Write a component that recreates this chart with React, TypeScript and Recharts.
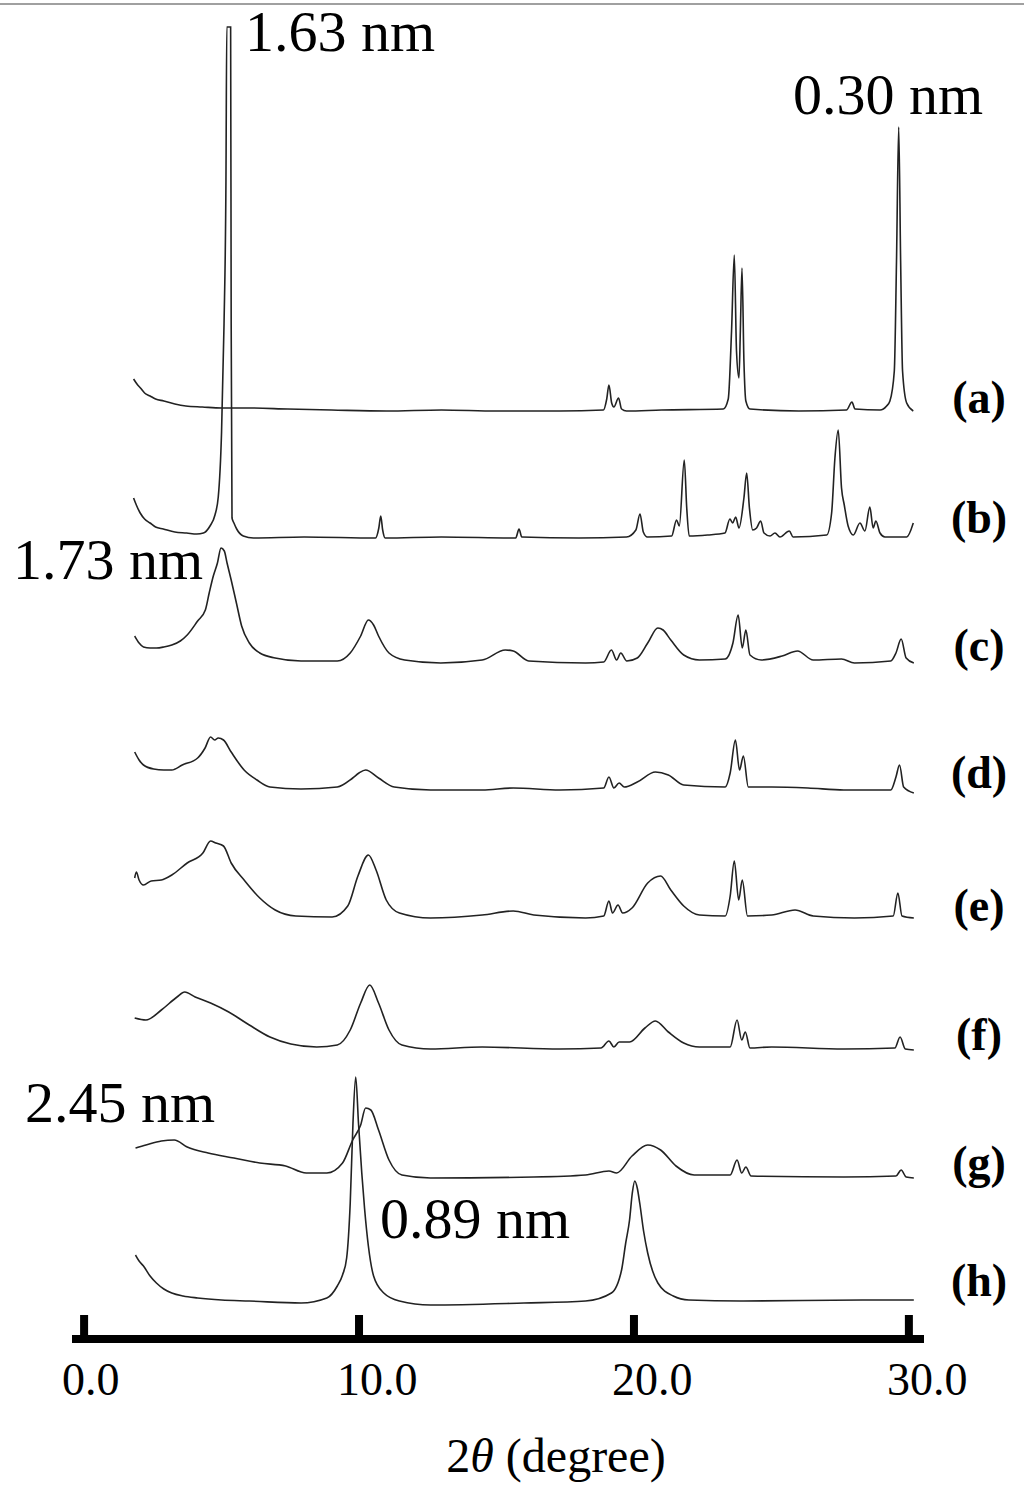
import { LineChart, Line, XAxis, YAxis } from "recharts";

const SERIF = '"Liberation Serif", "Times New Roman", serif';

// 2θ (degree) vs intensity above each trace's own baseline
const traceA: [number, number][] = [
  [1.8, 32], [1.95, 26], [2.05, 23], [2.2, 18], [2.4, 15], [2.6, 12], [2.9, 10], [3.3, 7], [3.7, 5],
  [4.3, 4], [5.0, 3], [6.0, 3], [7.4, 2], [9, 1], [11, 0], [13, 1], [15, 0], [17.3, 0],
  [18.89, 1], [19.01, 12], [19.09, 26], [19.19, 8], [19.27, 4], [19.44, 13], [19.55, 2], [19.73, 0],
  [21, 1], [23.25, 2], [23.43, 12], [23.55, 80], [23.65, 156], [23.73, 60], [23.82, 33], [23.87, 80],
  [23.93, 143], [24.0, 50], [24.07, 10], [24.22, 2], [26, 0], [27.73, 1], [27.93, 9], [28.04, 2],
  [28.95, 1], [29.19, 5], [29.31, 10], [29.47, 40], [29.55, 150], [29.63, 284], [29.7, 150],
  [29.77, 40], [29.92, 8], [30.16, 0],
];

const traceB: [number, number][] = [
  [1.8, 40], [1.9, 33], [2.04, 25], [2.2, 19], [2.4, 15], [2.6, 11], [2.88, 9], [3.3, 6], [3.73, 5],
  [4.1, 4], [4.34, 5], [4.58, 12], [4.76, 23], [4.88, 41], [5.0, 106], [5.09, 214], [5.16, 358],
  [5.19, 511], [5.33, 511], [5.35, 214], [5.38, 20], [5.45, 15], [5.55, 9], [5.79, 2], [6.16, 0],
  [8, 1], [10.6, 0], [10.72, 10], [10.79, 22], [10.86, 8], [10.95, 0], [13, 1], [15.7, 0],
  [15.82, 9], [15.92, 1], [18, 0], [19.73, 1], [20.07, 8], [20.22, 24], [20.34, 6], [20.49, 1],
  [21.37, 2], [21.55, 18], [21.65, 12], [21.83, 78], [21.92, 30], [22.01, 2], [22.68, 3],
  [23.31, 5], [23.49, 19], [23.59, 15], [23.7, 21], [23.82, 10], [24.0, 40], [24.1, 65], [24.2, 30],
  [24.32, 8], [24.46, 10], [24.61, 17], [24.73, 5], [24.95, 2], [25.13, 5], [25.31, 1], [25.65, 7],
  [25.79, 1], [27.01, 3], [27.19, 25], [27.31, 80], [27.43, 108], [27.55, 50], [27.65, 33],
  [27.79, 12], [27.98, 3], [28.22, 15], [28.4, 7], [28.58, 31], [28.7, 10], [28.8, 17], [28.95, 5],
  [29.13, 1], [29.92, 1], [30.16, 15],
];

const traceC: [number, number][] = [
  [1.84, 27], [2.0, 20], [2.16, 16], [2.4, 15], [2.63, 15], [2.9, 16], [3.19, 18], [3.5, 22],
  [3.75, 28], [4.13, 42], [4.41, 53], [4.55, 70], [4.7, 87], [4.85, 100], [4.98, 115], [5.1, 112],
  [5.2, 100], [5.35, 83], [5.54, 60], [5.73, 37], [6.01, 20], [6.39, 10], [6.95, 5], [7.89, 2],
  [9.21, 2], [9.68, 10], [10.06, 27], [10.34, 43], [10.53, 38], [10.71, 27], [11.09, 10], [11.66, 3],
  [12.97, 0], [14.48, 3], [15.32, 13], [15.61, 12], [16.17, 2], [18.24, 0], [18.9, 1], [19.18, 13],
  [19.37, 3], [19.52, 10], [19.74, 2], [20.12, 5], [20.5, 20], [20.87, 35], [21.06, 33], [21.34, 23],
  [21.81, 8], [22.38, 3], [23.32, 4], [23.6, 20], [23.79, 48], [23.94, 15], [24.07, 33], [24.22, 8],
  [24.63, 3], [25.39, 7], [25.95, 12], [26.52, 3], [27.55, 4], [28.02, 0], [29.34, 2], [29.53, 10],
  [29.72, 24], [29.9, 5], [30.18, 0],
];

const traceD: [number, number][] = [
  [1.84, 38], [2.0, 30], [2.16, 25], [2.53, 21], [2.9, 20], [3.19, 20], [3.57, 25], [4.13, 32],
  [4.4, 42], [4.6, 53], [4.75, 50], [4.88, 52], [5.07, 50], [5.35, 38], [5.82, 20], [6.29, 10],
  [6.76, 3], [7.89, 1], [9.21, 3], [9.77, 12], [10.0, 17], [10.24, 20], [10.71, 12], [11.28, 3],
  [12.6, 0], [14.48, 0], [15.61, 2], [17.3, 0], [18.9, 2], [19.09, 13], [19.27, 2], [19.46, 7],
  [19.65, 3], [20.12, 8], [20.78, 18], [21.25, 15], [21.81, 5], [23.32, 3], [23.5, 17], [23.69, 50],
  [23.84, 20], [23.98, 34], [24.16, 3], [25.01, 3], [26.33, 2], [27.64, 0], [29.34, 0], [29.53, 13],
  [29.66, 25], [29.81, 3], [30.18, -3],
];

const traceE: [number, number][] = [
  [1.84, 40], [1.9, 46], [2.0, 38], [2.16, 33], [2.44, 37], [2.81, 38], [3.19, 43], [3.75, 55],
  [4.32, 65], [4.6, 77], [4.79, 75], [5.07, 72], [5.35, 55], [5.82, 38], [6.39, 20], [6.95, 8],
  [7.7, 2], [9.02, 1], [9.59, 12], [9.96, 42], [10.34, 63], [10.62, 48], [10.99, 18], [11.47, 5],
  [12.6, 0], [14.48, 3], [15.61, 7], [16.36, 3], [18.24, 0], [18.9, 2], [19.09, 17], [19.22, 5],
  [19.42, 13], [19.59, 5], [19.93, 10], [20.5, 35], [20.97, 42], [21.34, 28], [21.81, 12],
  [22.38, 3], [23.32, 2], [23.5, 22], [23.65, 57], [23.81, 18], [23.94, 38], [24.13, 2], [25.01, 3],
  [25.86, 8], [26.52, 2], [28.02, 0], [29.43, 2], [29.6, 25], [29.75, 2], [30.18, 0],
];

const traceF: [number, number][] = [
  [1.84, 31], [2.25, 29], [2.81, 39], [3.38, 52], [3.66, 57], [4.04, 52], [4.6, 46], [5.26, 37],
  [6.01, 24], [6.76, 12], [7.52, 5], [8.46, 2], [9.21, 4], [9.68, 19], [10.06, 46], [10.39, 64],
  [10.71, 46], [11.09, 19], [11.56, 4], [12.6, 0], [14.48, 2], [17.3, 0], [18.8, 1], [19.09, 8],
  [19.27, 2], [19.46, 7], [19.84, 7], [20.4, 21], [20.78, 28], [21.25, 17], [21.81, 6], [22.38, 2],
  [23.5, 2], [23.75, 29], [23.92, 9], [24.05, 17], [24.22, 1], [25.01, 2], [27.64, 0], [29.49, 1],
  [29.68, 12], [29.87, 0], [30.18, -1],
];

const traceG: [number, number][] = [
  [1.87, 29], [2.25, 32], [2.81, 36], [3.28, 37], [3.75, 30], [4.51, 24], [5.45, 19], [6.39, 14],
  [7.33, 11], [8.08, 4], [8.83, 4], [9.4, 14], [9.77, 37], [10.06, 52], [10.24, 69], [10.43, 67],
  [10.71, 47], [11.09, 17], [11.56, 2], [12.6, -1], [16.36, 0], [18.24, 2], [19.09, 6], [19.37, 4],
  [19.93, 21], [20.5, 32], [20.97, 27], [21.53, 11], [22.19, 2], [23.5, 2], [23.75, 17], [23.92, 4],
  [24.07, 10], [24.26, 1], [27.64, 0], [29.53, 1], [29.72, 7], [29.9, 0], [30.18, -1],
];

const traceH: [number, number][] = [
  [1.87, 48], [2.0, 42], [2.16, 37], [2.4, 27], [2.63, 20], [2.9, 14], [3.19, 10], [3.6, 7],
  [4.13, 5], [5, 3], [6.01, 2], [7.89, 0], [8.83, 5], [9.21, 17], [9.4, 28], [9.55, 45], [9.68, 100],
  [9.78, 180], [9.88, 226], [9.98, 180], [10.1, 130], [10.2, 95], [10.34, 57], [10.53, 27],
  [10.9, 10], [11.47, 2], [12.6, -2], [16, 0], [18.24, 2], [19.18, 10], [19.55, 33], [19.7, 60],
  [19.84, 83], [19.94, 110], [20.03, 122], [20.12, 115], [20.21, 100], [20.35, 72], [20.5, 50],
  [20.87, 20], [21.43, 7], [22.0, 3], [23.88, 2], [28.4, 3], [30.18, 3],
];

const traces = [traceA, traceB, traceC, traceD, traceE, traceF, traceG, traceH];
// vertical stacking offset of each pattern
const offsets = [928, 801, 676, 549, 421, 290, 162, 36];
const sampleLabels = ["(a)", "(b)", "(c)", "(d)", "(e)", "(f)", "(g)", "(h)"];
const xTicks = [0, 10, 20, 30];
const xTickLabels = ["0.0", "10.0", "20.0", "30.0"];

const labelY = [413, 533, 661, 788, 921, 1050, 1178, 1296];
const notes = [
  { text: "1.63 nm", x: 245, y: 51 },
  { text: "0.30 nm", x: 793, y: 114 },
  { text: "1.73 nm", x: 13, y: 579 },
  { text: "2.45 nm", x: 25, y: 1122 },
  { text: "0.89 nm", x: 380, y: 1238 },
];

const AxisTick = (props: any) => {
  const { x, y, index } = props;
  return (
    <g>
      <rect x={x - 4} y={y - 24} width={8} height={24} fill="#000" />
      <text x={x - 22} y={y + 56} textAnchor="start" fontFamily={SERIF} fontSize={46} fill="#000">
        {xTickLabels[index]}
      </text>
    </g>
  );
};

export default function App() {
  return (
    <div style={{ position: "absolute", left: 0, top: 0, width: 1024, height: 1488, background: "#fff" }}>
      <LineChart width={1024} height={1488} margin={{ top: 0, right: 100, bottom: 119, left: 72 }}>
        <XAxis
          dataKey="x"
          type="number"
          domain={[-0.44, 30.55]}
          ticks={xTicks}
          allowDataOverflow
          height={30}
          tickSize={0}
          tickMargin={0}
          tickLine={false}
          axisLine={{ stroke: "#000", strokeWidth: 8 }}
          tick={<AxisTick />}
        />
        <YAxis type="number" domain={[0, 1339]} hide width={0} allowDataOverflow />
        {traces.map((t, i) => (
          <Line
            key={sampleLabels[i]}
            data={t.map(([x, h]) => ({ x, y: offsets[i] + h }))}
            dataKey="y"
            type="monotone"
            stroke="#222"
            strokeWidth={1.6}
            dot={false}
            activeDot={false}
            isAnimationActive={false}
          />
        ))}
      </LineChart>
      <svg
        width={1024}
        height={1488}
        style={{ position: "absolute", left: 0, top: 0, pointerEvents: "none" }}
      >
        <line x1={0} y1={4} x2={1024} y2={4} stroke="#a0a0a0" strokeWidth={2} />
        {notes.map((n) => (
          <text key={n.text} x={n.x} y={n.y} fontFamily={SERIF} fontSize={58} fill="#000">
            {n.text}
          </text>
        ))}
        {sampleLabels.map((l, i) => (
          <text
            key={l}
            x={979}
            y={labelY[i]}
            textAnchor="middle"
            fontFamily={SERIF}
            fontWeight="bold"
            fontSize={46}
            fill="#000"
          >
            {l}
          </text>
        ))}
        <text x={556} y={1472} textAnchor="middle" fontFamily={SERIF} fontSize={48} fill="#000">
          2<tspan fontStyle="italic">θ</tspan> (degree)
        </text>
      </svg>
    </div>
  );
}
